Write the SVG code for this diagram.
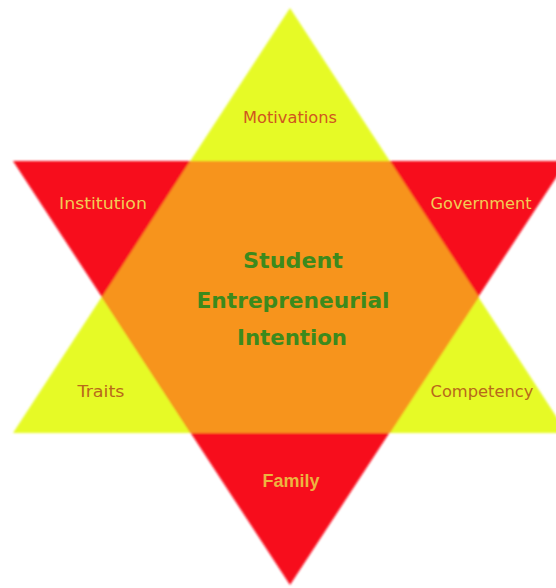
<svg xmlns="http://www.w3.org/2000/svg" width="556" height="588" viewBox="0 0 556 588">
<defs>
<filter id="soft" x="-5%" y="-5%" width="110%" height="110%"><feGaussianBlur stdDeviation="0.8"/></filter>
<style>
.yel{fill:#E6FA28}
.red{fill:#F70A1E}
.org{fill:#F7941D}
.lbl{font-family:"DejaVu Sans","Liberation Sans",sans-serif;font-size:15px;text-anchor:middle}
.onY{fill:#D0561E}
.onY2{fill:#B8691A}
.onR{fill:#F2CC55}
.ctr{font-family:"DejaVu Sans","Liberation Sans",sans-serif;font-size:21px;font-weight:bold;fill:#3C8A1C;text-anchor:middle}
</style>
</defs>
<rect width="556" height="588" fill="#FFFFFF"/>
<g id="shapes" filter="url(#soft)">
<polygon id="up-triangle" class="yel" points="290,8 567,433 13,433"/>
<polygon id="down-triangle" class="red" points="13,161 567,161 290,585"/>
<polygon id="hexagon" class="org" points="190,161 390,161 479,297 390,433 191,433 102,297"/>
</g>
<g id="motivations"><text class="lbl onY" x="290" y="123" textLength="94" lengthAdjust="spacingAndGlyphs">Motivations</text></g>
<g id="institution"><text class="lbl onR" x="103" y="209" textLength="88" lengthAdjust="spacingAndGlyphs">Institution</text></g>
<g id="government"><text class="lbl onR" x="481" y="209" textLength="101" lengthAdjust="spacingAndGlyphs">Government</text></g>
<g id="traits"><text class="lbl onY2" x="101" y="397" textLength="47" lengthAdjust="spacingAndGlyphs">Traits</text></g>
<g id="competency"><text class="lbl onY2" x="482" y="397" textLength="103" lengthAdjust="spacingAndGlyphs">Competency</text></g>
<g id="family"><text x="291" y="487" font-family="'Liberation Sans',Arial,sans-serif" font-size="18" font-weight="bold" fill="#EDB440" text-anchor="middle">Family</text></g>
<g id="center">
<text class="ctr" x="293" y="268" textLength="100" lengthAdjust="spacingAndGlyphs">Student</text>
<text class="ctr" x="293" y="308" textLength="193" lengthAdjust="spacingAndGlyphs">Entrepreneurial</text>
<text class="ctr" x="292" y="345" textLength="110" lengthAdjust="spacingAndGlyphs">Intention</text>
</g>
</svg>
